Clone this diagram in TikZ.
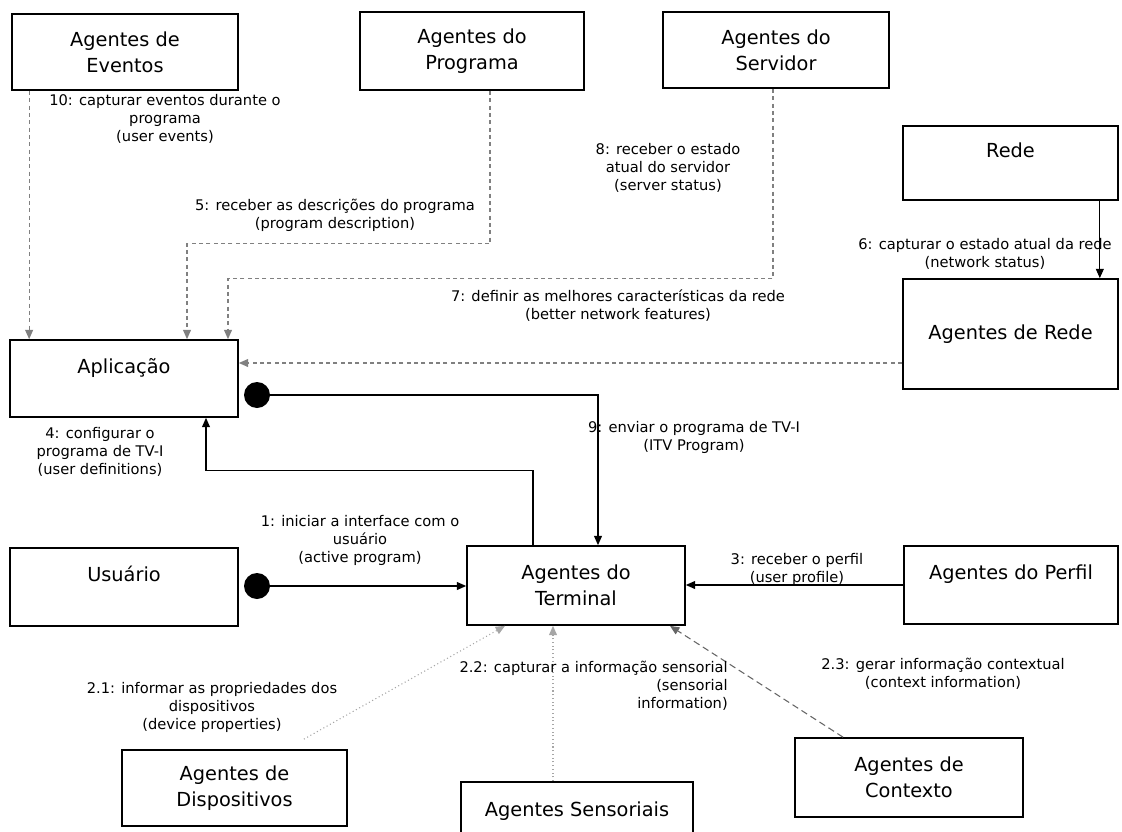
\documentclass[tikz,border=0pt]{standalone}
\usepackage{fontspec}
\setmainfont{DejaVu Sans}
\usetikzlibrary{arrows.meta}

\begin{document}
\begin{tikzpicture}[x=0.75pt,y=-0.75pt,
  agent/.style={draw,line width=1.3pt,align=center,inner sep=0pt,
    font=\fontsize{14.5}{19.5}\selectfont},
  txt/.style={align=center,inner sep=0pt,font=\fontsize{11}{13.5}\selectfont},
  msg/.style={line width=0.8pt,-{Triangle[length=7pt,width=6pt]}},
  dmsg/.style={msg,gray,dash pattern=on 3pt off 2.5pt},
  pmsg/.style={msg,gray!70,dotted},
  start/.style={circle,fill,inner sep=0pt,minimum size=19.5pt}]
\useasboundingbox (0,0) rectangle (1122,832);
\clip (0,0) rectangle (1122,832);

% agentes
\node[agent,minimum width=169.5pt,minimum height=57pt] (evt) at (125,52) {Agentes de\\Eventos};
\node[agent,minimum width=168pt,minimum height=58.5pt] (prog) at (472,51) {Agentes do\\Programa};
\node[agent,minimum width=169.5pt,minimum height=57pt] (serv) at (776,50) {Agentes do\\Servidor};
\node[agent,minimum width=161.25pt,minimum height=55.5pt] (rede) at (1010.5,163) {Rede\\~};
\node[agent,minimum width=161.25pt,minimum height=82.5pt] (agrede) at (1010.5,334) {Agentes de Rede};
\node[agent,minimum width=171pt,minimum height=57.75pt] (app) at (124,378.5) {Aplicação\\~};
\node[agent,minimum width=171pt,minimum height=58.5pt] (usr) at (124,587) {Usuário\\~};
\node[agent,minimum width=163.5pt,minimum height=59.25pt] (term) at (576,585.5) {Agentes do\\Terminal};
\node[agent,minimum width=160.5pt,minimum height=58.5pt] (perf) at (1011,585) {Agentes do Perfil\\~};
\node[agent,minimum width=168.75pt,minimum height=57pt] (disp) at (234.5,788) {Agentes de\\Dispositivos};
\node[agent,minimum width=174pt,minimum height=60pt] (sens) at (577,822) {Agentes Sensoriais\\~};
\node[agent,minimum width=171pt,minimum height=59.25pt] (ctx) at (909,777.5) {Agentes de\\Contexto};

% pontos de inicio
\node[start] (s9) at (257,395) {};
\node[start] (s1) at (257,586) {};

% mensagens
\draw[dmsg] ([xshift=13.5pt]evt.south west) coordinate (e10) -- (e10 |- app.north);
\draw[dmsg] ([xshift=13.5pt]prog.south) -- ++(0,153) -| ([xshift=47.25pt]app.north);
\draw[dmsg] ([xshift=-2.25pt]serv.south) -- ++(0,190) -| ([xshift=78pt]app.north);
\draw[msg] ([xshift=67pt]rede.south) coordinate (r6) -- (r6 |- agrede.north);
\draw[dmsg] ([yshift=-21.75pt]agrede.west) coordinate (r7) -- (r7 -| app.east);
\draw[msg] (s9) -| ([xshift=16.5pt]term.north);
\draw[msg] ([xshift=-32.25pt]term.north) -- ++(0,-75) -| ([xshift=61.5pt]app.south);
\draw[msg] (s1) -- (s1 -| term.west);
\draw[msg] (perf.west) -- (perf.west -| term.east);
\draw[pmsg] ([shift={(-44,-10)}]disp.north east) -- ([xshift=-53.25pt]term.south);
\draw[pmsg] ([xshift=-18pt]sens.north) coordinate (s22) -- (s22 |- term.south);
\draw[dmsg,gray!80!black,dash pattern=on 5pt off 3pt] ([xshift=-49.5pt]ctx.north) -- ([xshift=70.5pt]term.south);

% rotulos
\node[txt] (l10) at (165,119) {10: capturar eventos durante o\\programa\\(user events)};
\node[txt] (l5) at (335,215) {5: receber as descrições do programa\\(program description)};
\node[txt] (l8) at (668,168) {8: receber o estado\\atual do servidor\\(server status)};
\node[txt] (l6) at (985,254) {6: capturar o estado atual da rede\\(network status)};
\node[txt] (l7) at (618,306) {7: definir as melhores características da rede\\(better network features)};
\node[txt] (l9) at (694,437) {9: enviar o programa de TV-I\\(ITV Program)};
\node[txt] (l4) at (100,452) {4: configurar o\\programa de TV-I\\(user definitions)};
\node[txt] (l1) at (360,540) {1: iniciar a interface com o\\usuário\\(active program)};
\node[txt] (l3) at (797,569) {3: receber o perfil\\(user profile)};
\node[txt] (l21) at (212,707) {2.1: informar as propriedades dos\\dispositivos\\(device properties)};
\node[txt,align=right,anchor=east] (l22) at (728,686) {2.2: capturar a informação sensorial\\(sensorial\\information)};
\node[txt] (l23) at (943,674) {2.3: gerar informação contextual\\(context information)};
\end{tikzpicture}
\end{document}
